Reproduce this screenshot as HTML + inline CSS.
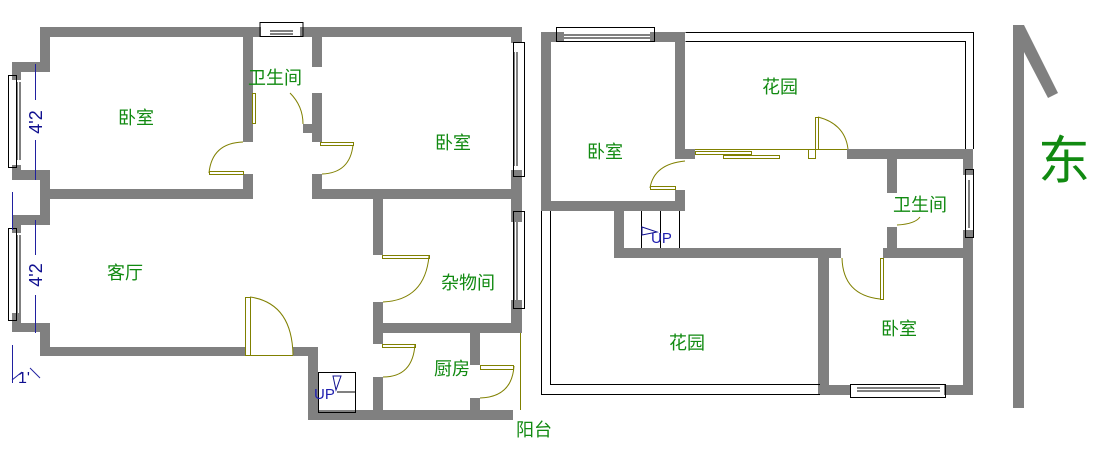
<!DOCTYPE html>
<html><head><meta charset="utf-8"><style>
html,body{margin:0;padding:0;background:#fff;width:1095px;height:459px;overflow:hidden}
svg{display:block}
.t{font-family:"Liberation Sans","Noto Sans CJK SC",sans-serif;font-size:18px;fill:#118a11}
</style></head><body>
<svg width="1095" height="459" viewBox="0 0 1095 459" xmlns="http://www.w3.org/2000/svg">
<g fill="#808080">
<!-- LEFT PLAN -->
<rect x="40" y="27" width="221" height="10"/>
<rect x="300" y="27" width="222" height="10"/>
<rect x="40" y="27" width="10" height="45"/>
<rect x="12" y="62" width="38" height="10"/>
<rect x="12" y="62" width="9" height="18"/>
<rect x="12" y="165" width="9" height="15"/>
<rect x="12" y="170" width="38" height="10"/>
<rect x="40" y="170" width="10" height="55"/>
<rect x="40" y="189" width="213" height="10"/>
<rect x="12" y="215" width="38" height="10"/>
<rect x="12" y="215" width="9" height="18"/>
<rect x="12" y="313" width="9" height="19"/>
<rect x="12" y="323" width="38" height="9"/>
<rect x="40" y="323" width="10" height="33"/>
<rect x="40" y="347" width="205" height="9"/>
<rect x="293" y="347" width="25" height="9"/>
<rect x="308" y="347" width="10" height="73"/>
<rect x="308" y="410" width="205" height="10"/>
<rect x="243" y="27" width="10" height="115"/>
<rect x="243" y="124" width="9" height="9"/>
<rect x="243" y="174" width="10" height="25"/>
<rect x="312" y="27" width="10" height="40"/>
<rect x="312" y="93" width="10" height="49"/>
<rect x="303" y="124" width="10" height="9"/>
<rect x="312" y="174" width="10" height="25"/>
<rect x="312" y="189" width="210" height="10"/>
<rect x="511" y="27" width="11" height="16"/>
<rect x="511" y="170" width="11" height="52"/>
<rect x="511" y="300" width="11" height="33"/>
<rect x="373" y="199" width="10" height="56"/>
<rect x="373" y="302" width="10" height="42"/>
<rect x="373" y="323" width="148" height="10"/>
<rect x="373" y="377" width="10" height="43"/>
<rect x="470" y="333" width="10" height="32"/>
<rect x="470" y="398" width="10" height="15"/>
<!-- RIGHT PLAN -->
<rect x="541" y="32" width="23" height="10"/>
<rect x="650" y="32" width="35" height="10"/>
<rect x="541" y="32" width="10" height="179"/>
<rect x="541" y="201" width="144" height="10"/>
<rect x="675" y="32" width="10" height="127"/>
<rect x="675" y="149" width="20" height="10"/>
<rect x="675" y="190" width="10" height="21"/>
<rect x="847" y="149" width="126" height="10"/>
<rect x="614" y="211" width="10" height="47"/>
<rect x="614" y="248" width="227" height="10"/>
<rect x="818" y="248" width="11" height="147"/>
<rect x="883" y="248" width="90" height="10"/>
<rect x="887" y="159" width="10" height="34"/>
<rect x="887" y="227" width="10" height="31"/>
<rect x="963" y="149" width="10" height="26"/>
<rect x="963" y="230" width="10" height="165"/>
<rect x="818" y="385" width="32" height="10"/>
<rect x="944" y="385" width="29" height="10"/>
<!-- compass -->
<rect x="1013" y="25" width="11" height="383"/>
<polygon points="1013,25 1024,25 1058,93 1048,98 1024,52"/>
</g>
<g fill="none" stroke="#000" stroke-width="1">
<!-- windows left -->
<rect x="260" y="22.5" width="43" height="14"/>
<line x1="270" y1="31" x2="293" y2="31"/><line x1="270" y1="34" x2="293" y2="34"/>
<rect x="8.5" y="75.5" width="8" height="92"/>
<line x1="17" y1="82" x2="17" y2="160"/><line x1="20" y1="82" x2="20" y2="160"/>
<rect x="8.5" y="228.5" width="8" height="92"/>
<line x1="17" y1="235" x2="17" y2="313"/><line x1="20" y1="235" x2="20" y2="313"/>
<rect x="513.5" y="42.5" width="11" height="134"/>
<line x1="514" y1="52" x2="514" y2="166"/><line x1="517" y1="52" x2="517" y2="166"/>
<rect x="513.5" y="211.5" width="11" height="97"/>
<line x1="514" y1="222" x2="514" y2="300"/><line x1="517" y1="222" x2="517" y2="300"/>
<rect x="318.5" y="372.5" width="37" height="40"/>
<line x1="337" y1="392" x2="355" y2="392"/>
<!-- windows right -->
<rect x="556.5" y="27.5" width="98" height="14"/>
<line x1="564" y1="35" x2="650" y2="35"/><line x1="564" y1="38" x2="650" y2="38"/>
<rect x="850.5" y="384.5" width="95" height="13"/>
<line x1="857" y1="388" x2="940" y2="388"/><line x1="857" y1="391" x2="940" y2="391"/>
<rect x="965.5" y="169.5" width="8" height="68"/>
<line x1="969" y1="180" x2="969" y2="228"/>
<!-- garden outlines -->
<polyline points="685.5,32.5 973.5,32.5 973.5,149"/>
<polyline points="685.5,41.5 965.5,41.5 965.5,149"/>
<polyline points="541.5,211 541.5,394.5 820,394.5"/>
<polyline points="550.5,211 550.5,384.5 820,384.5"/>
<!-- stairs right -->
<line x1="641.5" y1="211" x2="641.5" y2="248"/>
<line x1="660.5" y1="211" x2="660.5" y2="248"/>
<line x1="679.5" y1="211" x2="679.5" y2="248"/>
</g>
<g fill="none" stroke="#808000" stroke-width="1">
<!-- left plan doors -->
<path d="M243,142 Q212,143 209,173"/><rect x="209.5" y="171.5" width="34" height="3"/>
<rect x="252.5" y="93.5" width="3" height="30"/>
<path d="M290,93 Q303,106 303,124"/>
<path d="M322,174 Q350,173 353,145"/><rect x="320.5" y="142.5" width="33" height="3"/>
<rect x="245.5" y="297.5" width="5" height="58"/><path d="M250,297 Q292,303 293,355"/><line x1="250" y1="355.5" x2="293" y2="355.5"/>
<path d="M383,302 Q425,300 429,256"/><rect x="382.5" y="255.5" width="47" height="3"/>
<path d="M383,377 Q413,377 415,344"/><rect x="382.5" y="344.5" width="33" height="3"/>
<path d="M480,398 Q512,397 514,366"/><rect x="480.5" y="365.5" width="33" height="4"/>
<line x1="520.5" y1="333" x2="520.5" y2="410"/>
<!-- right plan doors -->
<path d="M685,161 Q654,164 650,188"/><rect x="650.5" y="186.5" width="25" height="3"/>
<line x1="695" y1="149.5" x2="847" y2="149.5"/>
<rect x="695.5" y="151.5" width="56" height="3"/>
<rect x="723.5" y="155.5" width="56" height="3"/>
<rect x="815.5" y="117.5" width="3" height="32"/>
<rect x="808.5" y="149.5" width="7" height="9"/>
<path d="M818,117 Q845,124 848,149"/>
<path d="M897,225 Q915,224 920,217"/>
<path d="M842,258 Q843,295 880,299"/>
<rect x="880.5" y="258.5" width="3" height="41"/>
</g>
<!-- dimension marks -->
<g stroke="#2020a0" fill="none" stroke-width="1">
<line x1="35.5" y1="64" x2="35.5" y2="100"/><line x1="35.5" y1="140" x2="35.5" y2="180"/>
<line x1="35.5" y1="220" x2="35.5" y2="255"/><line x1="35.5" y1="295" x2="35.5" y2="333"/>
<line x1="12.5" y1="192" x2="12.5" y2="230"/>
<line x1="12.5" y1="345" x2="12.5" y2="383"/>
<line x1="12" y1="380" x2="22" y2="372"/><line x1="30" y1="368" x2="40" y2="378"/>
</g>
<g font-family="Liberation Sans,sans-serif" font-size="18" fill="#101090">
<text transform="translate(42,122) rotate(-90)" text-anchor="middle">4'2</text>
<text transform="translate(42,275) rotate(-90)" text-anchor="middle">4'2</text>
<text x="18" y="383" font-size="16">1'</text>
</g>
<g font-family="Liberation Sans,sans-serif" font-size="15" fill="#2020b0">
<text x="314" y="399">UP</text>
<text x="651" y="243">UP</text>
</g>
<g stroke="#101090" fill="none"><path d="M333,376 L341,376 L336,390 Z"/><path d="M642,227 L657,232 L642,235 Z"/></g>
<g class="t">
<text x="118" y="124">卧室</text>
<text x="248" y="84">卫生间</text>
<text x="435" y="149">卧室</text>
<text x="107" y="279">客厅</text>
<text x="441" y="289">杂物间</text>
<text x="434" y="375">厨房</text>
<text x="516" y="436">阳台</text>
<text x="762" y="93">花园</text>
<text x="587" y="158">卧室</text>
<text x="893" y="211">卫生间</text>
<text x="669" y="349">花园</text>
<text x="881" y="335">卧室</text>
<text x="1038" y="179" style="font-size:52px">东</text>
</g>
</svg>
</body></html>
